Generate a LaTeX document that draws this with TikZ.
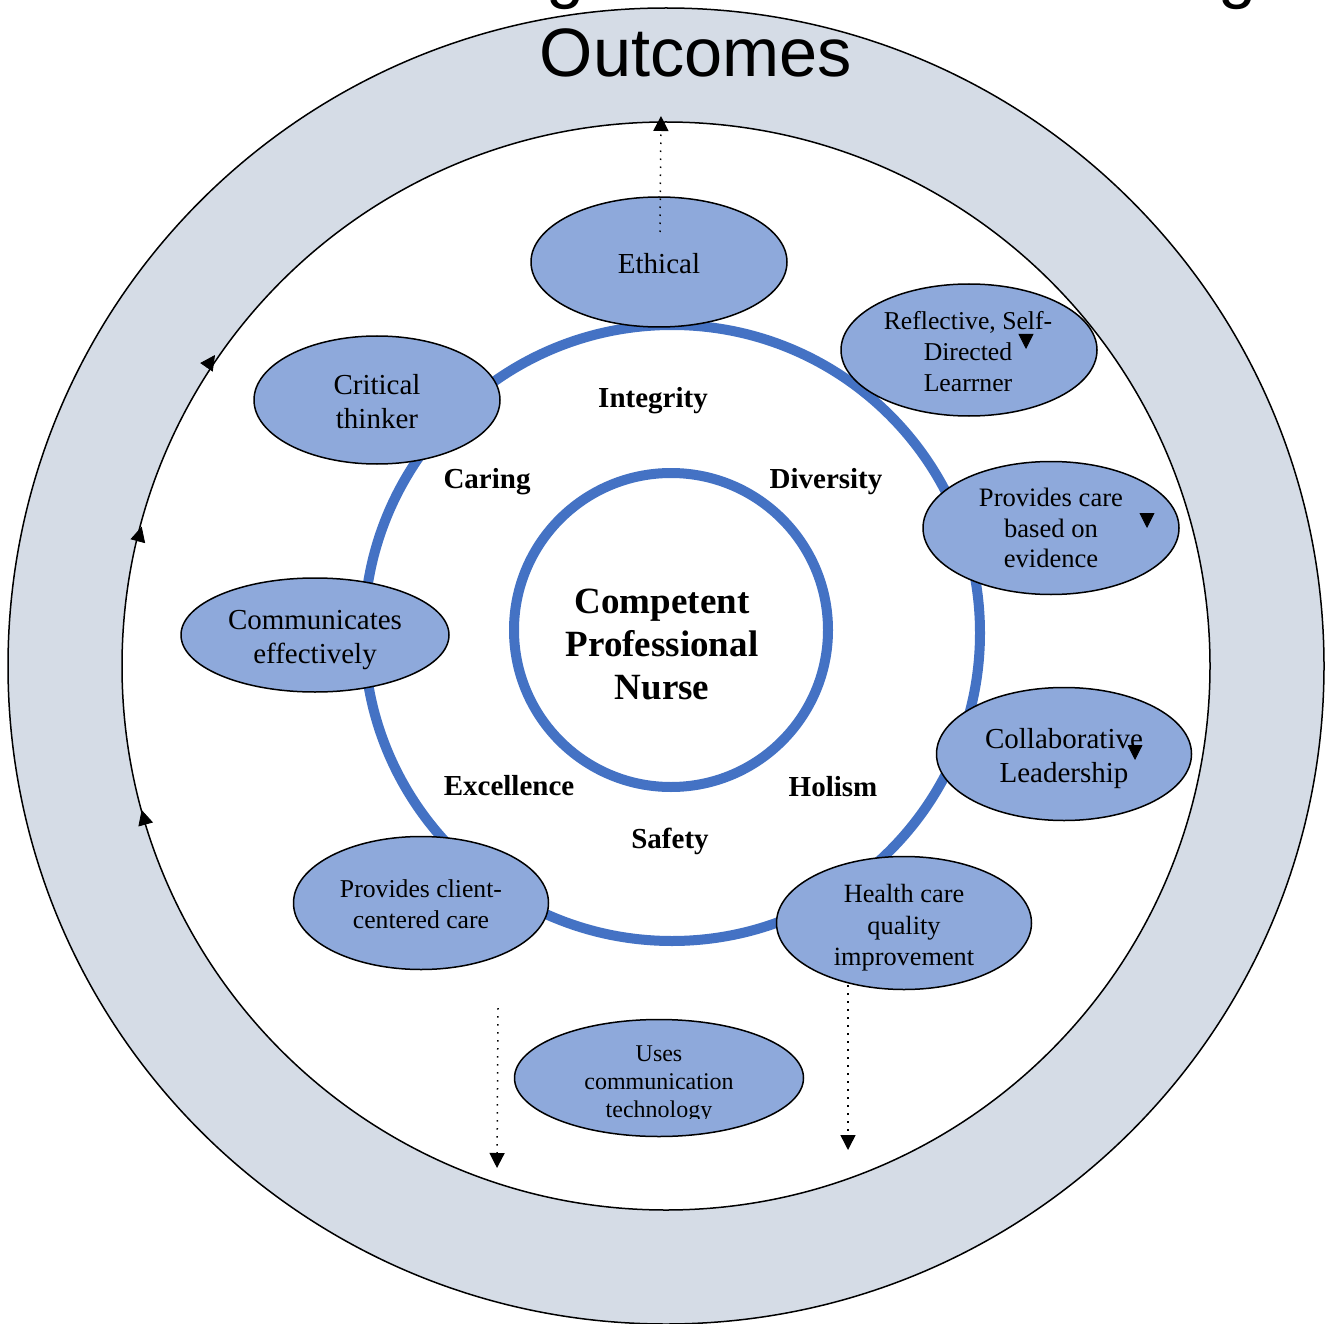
\documentclass[tikz,border=0pt]{standalone}
\usepackage{fontspec}
\setmainfont{Liberation Serif}
\newfontfamily\arialf{Liberation Sans}
\usetikzlibrary{shapes.geometric,arrows.meta}
\definecolor{ringgray}{HTML}{D5DCE6}
\definecolor{ellblue}{HTML}{8EA9DB}
\definecolor{ringblue}{HTML}{4472C4}
\begin{document}
\begin{tikzpicture}[x=1pt,y=-1pt,
  oval/.style={ellipse, draw=black, line width=1.5pt, fill=ellblue, inner sep=0pt},
  otxt/.style={align=center, inner sep=0pt},
  fA/.style={font=\fontsize{29}{34}\selectfont},
  fB/.style={font=\fontsize{25.7}{31}\selectfont},
  lbl/.style={font=\fontsize{29}{34}\selectfont\bfseries, anchor=base},
  tipst/.style={-{Triangle[length=15pt,width=15pt]}, line width=0.8pt},
  dotline/.style={-{Triangle[length=15pt,width=15pt]}, line width=1.5pt, dash pattern=on 1.5pt off 6.5pt}
]
\useasboundingbox (0,0) rectangle (1331,1324);
\coordinate (C) at (666,666);
% outer band
\filldraw[fill=ringgray, draw=black, line width=1.5pt] (C) circle (658);
\filldraw[fill=white, draw=black, line width=1.5pt] (C) circle (544);
% title (clipped by page)
\node[font=\fontsize{68.5}{80}\arialf, anchor=base] (title) at (696,77) {Outcomes};
\node[font=\fontsize{68.5}{80}\arialf, anchor=base] (tg1) at (566,-4) {g};
\node[font=\fontsize{68.5}{80}\arialf, anchor=base] (tg2) at (1238,-4) {g};
% blue rings
\draw[ringblue, line width=10pt] (672,633) circle (308);
\draw[ringblue, line width=10pt] (671,630) circle (157);
% centre text
\node[font=\fontsize{37}{43}\selectfont\bfseries, align=center] (core) at (662,644) {Competent\\Professional\\Nurse};
% values
\node[lbl] (integ) at (653,407.5) {Integrity};
\node[lbl] (caring) at (487,488.5) {Caring};
\node[lbl] (divers) at (826,488.5) {Diversity};
\node[lbl] (excel) at (509,795.5) {Excellence};
\node[lbl] (holism) at (833,796.5) {Holism};
\node[lbl] (safety) at (670,848.5) {Safety};
% ellipses
\node[oval, minimum width=256pt, minimum height=130pt] (eth) at (659,262) {};
\node[otxt, fA] (ethT) at (659,264) {Ethical};
\node[oval, minimum width=256pt, minimum height=132pt] (refl) at (969,350) {};
\node[otxt, fB] (reflT) at (968,351.5) {Reflective, Self-\\Directed\\Learrner};
\node[oval, minimum width=246pt, minimum height=128pt] (crit) at (377,400) {};
\node[otxt, fA] (critT) at (377,401.5) {Critical\\thinker};
\node[oval, minimum width=256pt, minimum height=133pt] (prov) at (1051,528) {};
\node[otxt, font=\fontsize{26.6}{30.5}\selectfont] (provT) at (1051,528) {Provides care\\based on\\evidence};
\node[oval, minimum width=268pt, minimum height=114pt] (comm) at (315,635) {};
\node[otxt, fA] (commT) at (315,640) {Communicates\\effectively};
\node[oval, minimum width=255pt, minimum height=133pt] (coll) at (1064,754) {};
\node[otxt, fA] (collT) at (1064,759) {Collaborative\\Leadership};
\node[oval, minimum width=255pt, minimum height=133pt] (clnt) at (421,903) {};
\node[otxt, fB] (clntT) at (421,904) {Provides client-\\centered care};
\node[oval, minimum width=255pt, minimum height=133pt] (hlth) at (904,923) {};
\node[otxt, font=\fontsize{26.3}{31.5}\selectfont] (hlthT) at (904,928) {Health care\\quality\\improvement};
\node[oval, minimum width=289pt, minimum height=117pt] (uses) at (659,1078) {};
\begin{scope}
  \clip (520,1020) rectangle (800,1118);
  \node[otxt, font=\fontsize{24}{28}\selectfont] (usesT) at (659,1084) {Uses\\communication\\technology};
\end{scope}
% dotted arrows
\coordinate (ethsrc) at (660,232);
\coordinate (ethtip) at (661,116);
\draw[dotline] (ethsrc) -- (ethtip);
\coordinate (lsrc) at (498,1008);
\coordinate (ltip) at (497,1168);
\draw[dotline] (lsrc) -- (ltip);
\coordinate (rsrc) at (848,985);
\coordinate (rtip) at (848,1150);
\draw[dotline] (rsrc) -- (rtip);
% arrow tips along inner circle
\coordinate (a1s) at (206.5,367.3); \coordinate (a1) at (215,355);
\coordinate (a2s) at (137.8,541.2); \coordinate (a2) at (141.7,526.7);
\coordinate (a3s) at (145.7,824.5); \coordinate (a3) at (141.7,810);
\draw[tipst] (a1s) -- (a1);
\draw[tipst] (a2s) -- (a2);
\draw[tipst] (a3s) -- (a3);
% small downward tips
\coordinate (d1s) at (1026,334); \coordinate (d1) at (1026,349);
\coordinate (d2s) at (1147,513); \coordinate (d2) at (1147,528);
\coordinate (d3s) at (1135,745); \coordinate (d3) at (1135,760);
\draw[tipst] (d1s) -- (d1);
\draw[tipst] (d2s) -- (d2);
\draw[tipst] (d3s) -- (d3);
\end{tikzpicture}
\end{document}
